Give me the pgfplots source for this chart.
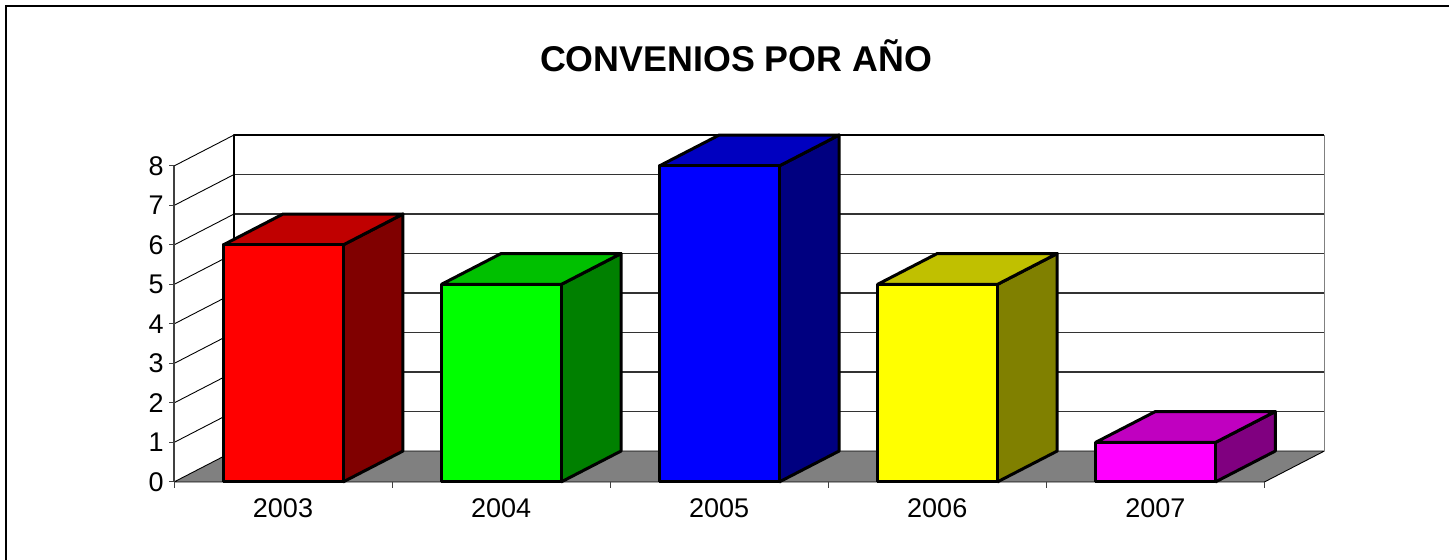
\documentclass[border=0pt]{standalone}
\usepackage{fontspec}
\setmainfont{Liberation Sans}
\usepackage{pgfplots}
\pgfplotsset{compat=1.18}
\definecolor{floorgray}{RGB}{128,128,128}
\definecolor{redT}{RGB}{192,0,0}\definecolor{redS}{RGB}{128,0,0}
\definecolor{greenF}{RGB}{0,255,0}\definecolor{greenT}{RGB}{0,192,0}\definecolor{greenS}{RGB}{0,128,0}
\definecolor{blueF}{RGB}{0,0,255}\definecolor{blueT}{RGB}{0,0,192}\definecolor{blueS}{RGB}{0,0,128}
\definecolor{yelF}{RGB}{255,255,0}\definecolor{yelT}{RGB}{192,192,0}\definecolor{yelS}{RGB}{128,128,0}
\definecolor{magF}{RGB}{255,0,255}\definecolor{magT}{RGB}{192,0,192}\definecolor{magS}{RGB}{128,0,128}
\begin{document}
\begin{tikzpicture}
\begin{axis}[
  scale only axis, width=545.2pt, height=158pt,
  at={(0,0)}, anchor=south west,
  xmin=-0.5, xmax=4.5, ymin=0, ymax=8,
  clip=false, axis lines=none,
  unbounded coords=jump,
]
% walls
\addplot[draw=none, fill=floorgray, forget plot] coordinates {(-0.5,0) (4.5,0) (4.775,0.784) (-0.225,0.784) (-0.5,0)};
\addplot[black!80, line width=0.65pt, forget plot] table {
x y
-0.225 1.784
4.775 1.784
nan nan
-0.225 2.784
4.775 2.784
nan nan
-0.225 3.784
4.775 3.784
nan nan
-0.225 4.784
4.775 4.784
nan nan
-0.225 5.784
4.775 5.784
nan nan
-0.225 6.784
4.775 6.784
nan nan
-0.225 7.784
4.775 7.784
};
\addplot[black, line width=0.45pt, forget plot] table {
x y
-0.5 1
-0.225 1.784
nan nan
-0.5 2
-0.225 2.784
nan nan
-0.5 3
-0.225 3.784
nan nan
-0.5 4
-0.225 4.784
nan nan
-0.5 5
-0.225 5.784
nan nan
-0.5 6
-0.225 6.784
nan nan
-0.5 7
-0.225 7.784
nan nan
-0.5 8
-0.225 8.784
nan nan
-0.5 0
-0.225 0.784
nan nan
4.5 0
4.775 0.784
nan nan
-0.5 0
4.5 0
nan nan
-0.225 0.784
4.775 0.784
};
\addplot[black, line width=0.6pt, forget plot] coordinates {(-0.225,0.784) (-0.225,8.784) (4.775,8.784)};
\addplot[floorgray, line width=0.8pt, forget plot] coordinates {(4.775,0.784) (4.775,8.784)};
\addplot[black!75, line width=0.6pt, forget plot] coordinates {(-0.5,0) (-0.5,8)};
% ticks
\addplot[black!75, line width=0.5pt, forget plot] table {
x y
-0.5 0
-0.5 -0.15
nan nan
0.5 0
0.5 -0.15
nan nan
1.5 0
1.5 -0.15
nan nan
2.5 0
2.5 -0.15
nan nan
3.5 0
3.5 -0.15
nan nan
4.5 0
4.5 -0.15
};
\addplot[black!75, line width=0.5pt, forget plot] table {
x y
-0.5 0
-0.525 0
nan nan
-0.5 1
-0.525 1
nan nan
-0.5 2
-0.525 2
nan nan
-0.5 3
-0.525 3
nan nan
-0.5 4
-0.525 4
nan nan
-0.5 5
-0.525 5
nan nan
-0.5 6
-0.525 6
nan nan
-0.5 7
-0.525 7
nan nan
-0.5 8
-0.525 8
};
\pgfplotsset{every axis plot/.append style={line width=1.5pt, draw=black, line join=round}}
% 2003
\addplot[fill=redS] coordinates {(0.275,0) (0.55,0.784) (0.55,6.784) (0.275,6) (0.275,0)};
\addplot[fill=redT] coordinates {(-0.275,6) (0,6.784) (0.55,6.784) (0.275,6) (-0.275,6)};
\addplot[fill=red] coordinates {(-0.275,0) (0.275,0) (0.275,6) (-0.275,6) (-0.275,0)};
% 2004
\addplot[fill=greenS] coordinates {(1.275,0) (1.55,0.784) (1.55,5.784) (1.275,5) (1.275,0)};
\addplot[fill=greenT] coordinates {(0.725,5) (1,5.784) (1.55,5.784) (1.275,5) (0.725,5)};
\addplot[fill=greenF] coordinates {(0.725,0) (1.275,0) (1.275,5) (0.725,5) (0.725,0)};
% 2005
\addplot[fill=blueS] coordinates {(2.275,0) (2.55,0.784) (2.55,8.784) (2.275,8) (2.275,0)};
\addplot[fill=blueT] coordinates {(1.725,8) (2,8.784) (2.55,8.784) (2.275,8) (1.725,8)};
\addplot[fill=blueF] coordinates {(1.725,0) (2.275,0) (2.275,8) (1.725,8) (1.725,0)};
% 2006
\addplot[fill=yelS] coordinates {(3.275,0) (3.55,0.784) (3.55,5.784) (3.275,5) (3.275,0)};
\addplot[fill=yelT] coordinates {(2.725,5) (3,5.784) (3.55,5.784) (3.275,5) (2.725,5)};
\addplot[fill=yelF] coordinates {(2.725,0) (3.275,0) (3.275,5) (2.725,5) (2.725,0)};
% 2007
\addplot[fill=magS] coordinates {(4.275,0) (4.55,0.784) (4.55,1.784) (4.275,1) (4.275,0)};
\addplot[fill=magT] coordinates {(3.725,1) (4,1.784) (4.55,1.784) (4.275,1) (3.725,1)};
\addplot[fill=magF] coordinates {(3.725,0) (4.275,0) (4.275,1) (3.725,1) (3.725,0)};
\end{axis}
% text: positions relative to the axis box, 0.5pt per reference pixel
\begin{scope}[every node/.style={font=\fontsize{13.5pt}{16pt}\selectfont, inner sep=0pt}]
\foreach \v [count=\i from 0] in {0,...,8}
  \node[anchor=east] at (-5pt, \v*19.75pt) {\v};
\foreach \y [count=\i from 0] in {2003,2004,2005,2006,2007}
  \node[anchor=base] at (54.5pt+\i*109.04pt, -18pt) {\y};
\end{scope}
\node[anchor=base, inner sep=0pt, font=\fontsize{17.9pt}{20pt}\selectfont\bfseries] at (281pt, 205pt) {CONVENIOS POR AÑO};
\draw[black, line width=0.6pt] (-84pt,-39pt) -- (-84pt,238pt) -- (637.5pt,238pt);
\pgfresetboundingbox
\useasboundingbox (-87pt,-39pt) rectangle (637.5pt,241pt);
\end{tikzpicture}
\end{document}
